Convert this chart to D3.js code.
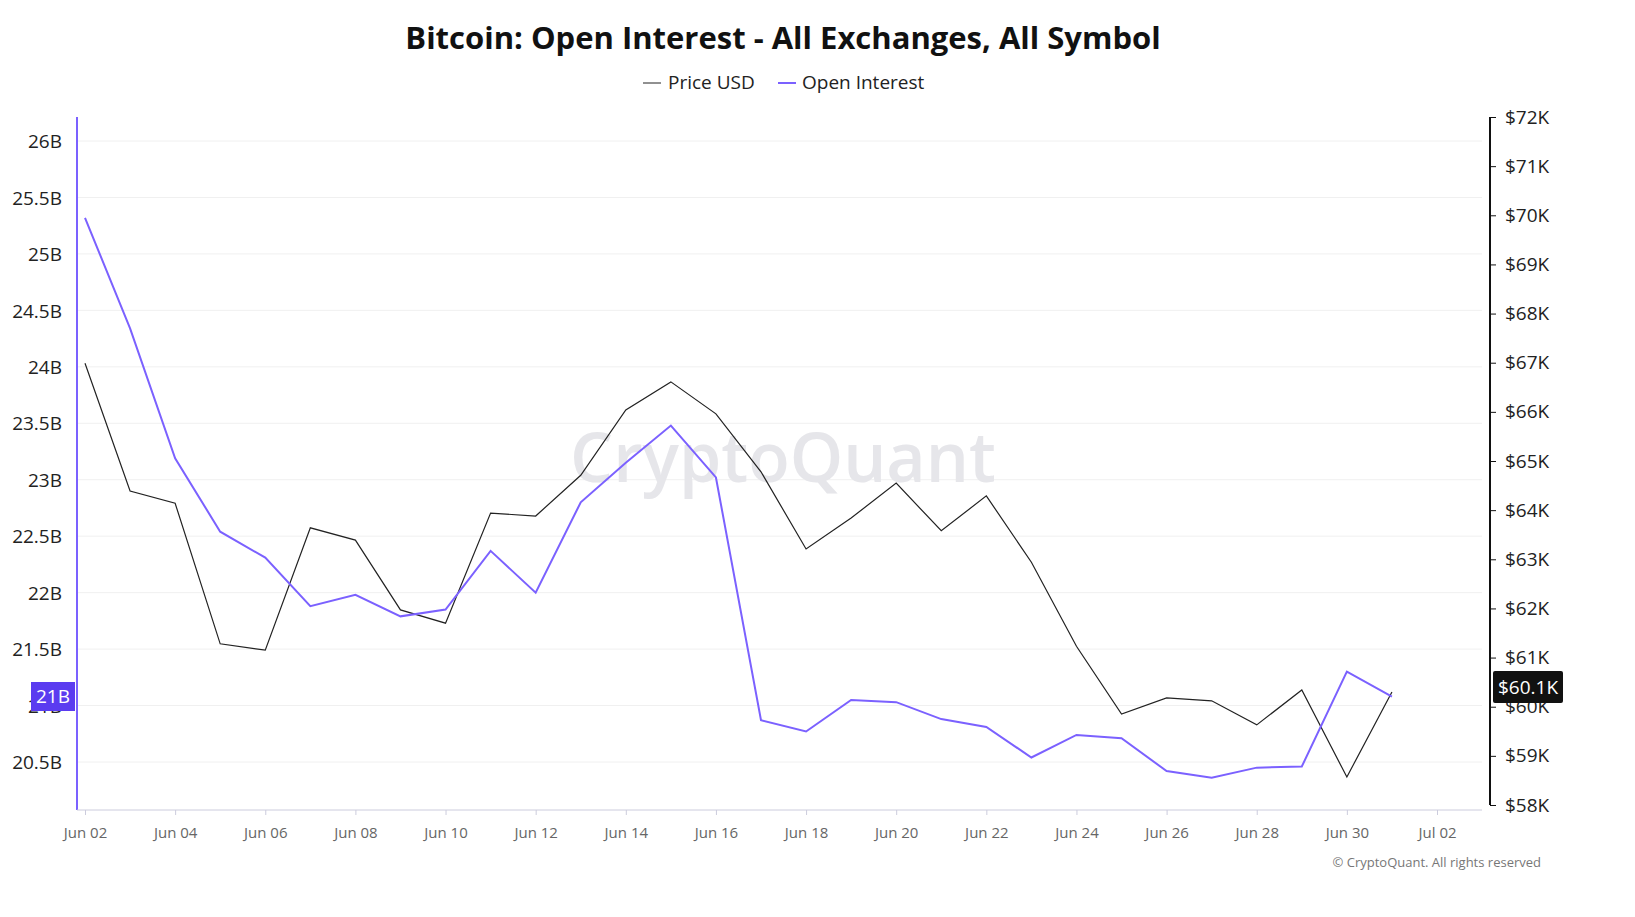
<!DOCTYPE html><html><head><meta charset="utf-8">
<script src="https://cdn.jsdelivr.net/npm/d3@7/dist/d3.min.js"></script>
<style>body{margin:0;background:#fff;font-family:"Open Sans",sans-serif}</style></head><body>
<svg id="c" width="1635" height="917"></svg>
<script>
const dates = d3.range(0,30).map(i=>new Date(2024,5,2+i));
const openInterest = [25.32,24.34,23.19,22.54,22.31,21.88,21.98,21.79,21.85,22.37,22.0,22.80,23.15,23.48,23.02,20.87,20.77,21.05,21.03,20.88,20.81,20.54,20.74,20.71,20.42,20.36,20.45,20.46,21.30,21.08];
const priceK = [66.99,64.39,64.14,61.28,61.15,63.64,63.39,61.97,61.70,63.94,63.88,64.71,66.04,66.61,65.96,64.78,63.21,63.84,64.55,63.58,64.29,62.94,61.23,59.85,60.18,60.12,59.63,60.34,58.57,60.3];
const leftTicks = [20.5,21,21.5,22,22.5,23,23.5,24,24.5,25,25.5,26];
const rightTicks = d3.range(58,73);
const xTicks = d3.range(0,16).map(i=>new Date(2024,5,2+2*i));

const svg=d3.select("#c");
const x=d3.scaleTime().domain([new Date(2024,5,2),new Date(2024,6,2)]).range([85,1437]);
const yL=d3.scaleLinear().domain([20.5,26]).range([762,141]);
const yR=d3.scaleLinear().domain([58,72]).range([805,117]);

svg.append("text").attr("x",783).attr("y",49).attr("text-anchor","middle").attr("font-size",31).attr("font-weight",700).attr("fill","#111").text("Bitcoin: Open Interest - All Exchanges, All Symbol");
// legend
const lg=svg.append("g").attr("font-size",19).attr("fill","#222");
lg.append("line").attr("x1",643).attr("x2",661).attr("y1",83).attr("y2",83).attr("stroke","#222");
lg.append("text").attr("x",668).attr("y",89).text("Price USD");
lg.append("line").attr("x1",778).attr("x2",796).attr("y1",83).attr("y2",83).attr("stroke","#7b61ff").attr("stroke-width",2);
lg.append("text").attr("x",802).attr("y",89).text("Open Interest");

// grid
svg.append("g").selectAll("line").data(leftTicks).join("line").attr("x1",77).attr("x2",1482).attr("y1",d=>yL(d)).attr("y2",d=>yL(d)).attr("stroke","#f0f0f0");
svg.append("text").attr("x",783).attr("y",482).attr("text-anchor","middle").attr("font-size",68).attr("font-weight",600).attr("fill","#e6e6ea").text("CryptoQuant");

// left axis
const la=svg.append("g").attr("transform","translate(77,0)").call(d3.axisLeft(yL).tickValues(leftTicks).tickSize(0).tickPadding(15).tickFormat(d=>d+"B"));
la.select(".domain").remove();
la.selectAll("text").attr("font-size",19).attr("fill","#222").attr("font-family","Open Sans").attr("dy","0.35em");
svg.append("line").attr("x1",77).attr("x2",77).attr("y1",117).attr("y2",810).attr("stroke","#7b61ff").attr("stroke-width",2);
// right axis
const ra=svg.append("g").attr("transform","translate(1490,0)").call(d3.axisRight(yR).tickValues(rightTicks).tickSize(6).tickPadding(10).tickFormat(d=>"$"+d+"K"));
ra.select(".domain").attr("d","M0,117V805").attr("stroke","#111").attr("stroke-width",2);
ra.selectAll(".tick line").attr("stroke","#111");
ra.selectAll("text").attr("font-size",19).attr("fill","#222").attr("font-family","Open Sans").attr("x",15);
// bottom
const ba=svg.append("g").attr("transform","translate(0,810)").call(d3.axisBottom(x).tickValues(xTicks).tickSize(5).tickPadding(12).tickFormat(d3.timeFormat("%b %d")));
ba.select(".domain").attr("d","M77,0H1482").attr("stroke","#ccd");
ba.selectAll(".tick line").attr("stroke","#ccd");
ba.selectAll("text").attr("font-size",15).attr("fill","#666").attr("font-family","Open Sans");

// lines
svg.append("path").datum(priceK).attr("fill","none").attr("stroke","#222").attr("stroke-width",1.2)
 .attr("d",d3.line().x((d,i)=>x(dates[i])).y(d=>yR(d)));
svg.append("path").datum(openInterest).attr("fill","none").attr("stroke","#7b61ff").attr("stroke-width",2)
 .attr("d",d3.line().x((d,i)=>x(dates[i])).y(d=>yL(d)));

// badges
svg.append("rect").attr("x",31).attr("y",682).attr("width",44).attr("height",29).attr("fill","#5b3cf0");
svg.append("text").attr("x",53).attr("y",703).attr("text-anchor","middle").attr("font-size",19).attr("fill","#fff").text("21B");
svg.append("rect").attr("x",1493).attr("y",671).attr("width",70).attr("height",32).attr("rx",2).attr("fill","#111");
svg.append("text").attr("x",1528).attr("y",694).attr("text-anchor","middle").attr("font-size",19).attr("fill","#fff").text("$60.1K");

svg.append("text").attr("x",1541).attr("y",867).attr("text-anchor","end").attr("font-size",13).attr("fill","#777").text("© CryptoQuant. All rights reserved");
</script></body></html>
